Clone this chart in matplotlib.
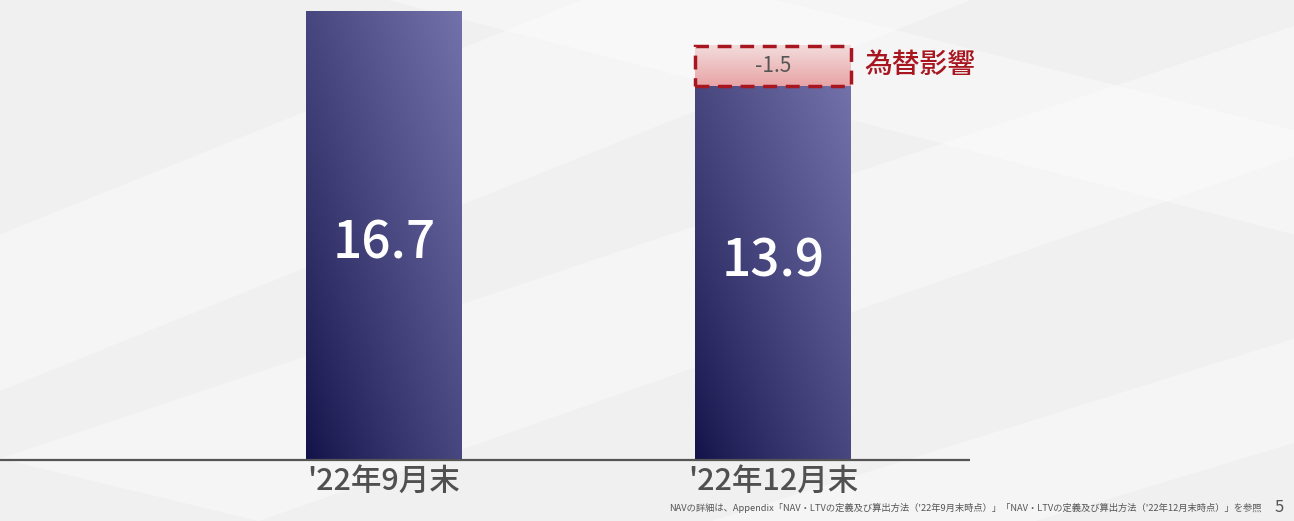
import numpy as np
import matplotlib
matplotlib.use('Agg')
from matplotlib import pyplot as plt
from matplotlib.patches import Rectangle, Polygon

plt.rcParams['font.family'] = ['Noto Sans CJK JP', 'DejaVu Sans']

# NAV (bars) and FX impact
periods = ["'22年9月末", "'22年12月末"]
nav = [16.7, 13.9]
fx_impact = -1.5
fx_label = '為替影響'
note = 'NAVの詳細は、Appendix「NAV・LTVの定義及び算出方法（\'22年9月末時点）」「NAV・LTVの定義及び算出方法（\'22年12月末時点）」を参照'
page_no = '5'

W, H = 1294, 521
fig = plt.figure(figsize=(W / 100, H / 100), dpi=100)
fig.patch.set_facecolor('#f0f0f1')

# background with soft diagonal light streaks
bg = fig.add_axes([0, 0, 1, 1])
bg.set_xlim(0, 1)
bg.set_ylim(0, 1)
bg.axis('off')
streaks = [
    [(0, 0.55), (0.45, 1), (0.75, 1), (0, 0.25)],
    [(0.2, 0), (1, 0.7), (1, 0.95), (0.0, 0.12)],
    [(0.55, 0), (1, 0.35), (1, 0.15), (0.8, 0)],
    [(0.3, 1), (1, 0.55), (1, 0.75), (0.6, 1)],
]
for pts in streaks:
    bg.add_patch(Polygon(pts, closed=True, facecolor='white', alpha=0.4,
                         edgecolor='none'))

ax = fig.add_axes([0, 0, 1, 1])
ax.patch.set_alpha(0)
px_unit = 26.9
base = 61
ax.set_ylim(-base / px_unit, (H - base) / px_unit)
step = 389
ax.set_xlim(-384 / step, (W - 384) / step)
ax.axis('off')

width = 0.401
x = np.arange(len(periods))

# diagonal gradient: dark navy bottom-left to lighter violet top-right
gx, gy = np.meshgrid(np.linspace(0, 1, 64), np.linspace(0, 1, 256))
t = np.clip(0.5 * gx + 0.5 * gy, 0, 1) ** 0.85
c0 = np.array([0x12, 0x11, 0x48]) / 255
c1 = np.array([0x72, 0x71, 0xaa]) / 255
grad = c0 + (c1 - c0) * t[..., None]

for xi, v in zip(x, nav):
    rect = Rectangle((xi - width / 2, 0), width, v, facecolor='none',
                     edgecolor='none')
    ax.add_patch(rect)
    im = ax.imshow(grad, extent=(xi - width / 2, xi + width / 2, 0, v),
                   origin='lower', aspect='auto', zorder=2)
    im.set_clip_path(rect)

ax.text(x[0], nav[0] * 0.483, f'{nav[0]:.1f}', color='white', fontsize=37,
        fontweight='medium', ha='center', va='center', zorder=4)
ax.text(x[1], nav[1] * 0.53, f'{nav[1]:.1f}', color='white', fontsize=37,
        fontweight='medium', ha='center', va='center', zorder=4)

# FX impact box stacked on the second bar
b0, b1 = nav[1], nav[1] - fx_impact
pink = np.linspace(0, 1, 64)[:, None, None]
top_c = np.array([0xf3, 0xdc, 0xdc]) / 255
bot_c = np.array([0xe8, 0xa4, 0xa6]) / 255
pgrad = bot_c + (top_c - bot_c) * pink
pgrad = np.repeat(pgrad, 4, axis=1)
ax.imshow(pgrad, extent=(x[1] - width / 2, x[1] + width / 2, b0, b1),
          origin='lower', aspect='auto', zorder=2)
ax.add_patch(Rectangle((x[1] - width / 2, b0), width, b1 - b0,
                       facecolor='none', edgecolor='#a8161f', linewidth=2.5,
                       linestyle=(0, (4, 2.5)), zorder=3))
ax.text(x[1], (b0 + b1) / 2, f'{fx_impact:.1f}', color='#555555',
        fontsize=15, ha='center', va='center', zorder=4)
ax.text(x[1] + width / 2 + 0.035, (b0 + b1) / 2 + 0.05, fx_label,
        color='#a8161f', fontsize=20, fontweight='medium', ha='left',
        va='center', zorder=4)

# baseline
ax.plot([-384 / step, (970 - 384) / step], [0, 0], color='#555555',
        linewidth=1.6, zorder=3, solid_capstyle='butt')

for xi, lab in zip(x, periods):
    ax.text(xi, -0.8, lab, color='#505050', fontsize=22, fontweight='medium',
            ha='center', va='center')

fig.text(1262 / W, 1 - 508 / H, note, fontsize=6.7, color='#555555',
         ha='right', va='center')
fig.text(1279 / W, 1 - 508 / H, page_no, fontsize=12, color='#555555',
         ha='center', va='center')

fig.savefig('out.png', dpi=100)
